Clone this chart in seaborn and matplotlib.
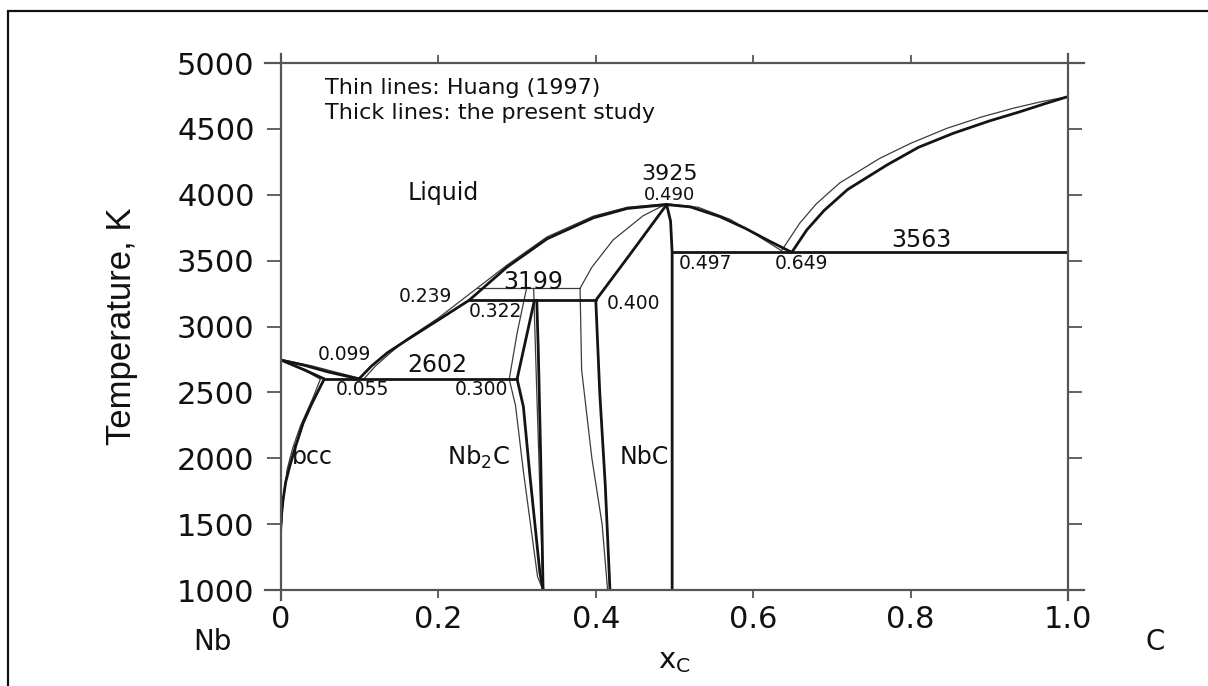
import matplotlib
matplotlib.use("Agg")
import matplotlib.pyplot as plt
import seaborn as sns
from matplotlib.patches import Rectangle

# ---------------- Nb-C phase boundaries, present study (thick lines) ----------------
liq_nb_x = [0.0, 0.03, 0.06, 0.099]
liq_nb_t = [2745, 2705, 2655, 2602]
sol_bcc_x = [0.0, 0.03, 0.055]
sol_bcc_t = [2745, 2670, 2602]
solvus_bcc_x = [0.055, 0.048, 0.038, 0.028, 0.018, 0.011, 0.006, 0.003, 0.001, 0.0]
solvus_bcc_t = [2602, 2520, 2400, 2265, 2080, 1937, 1820, 1700, 1600, 1500]
liq_mid_x = [0.099, 0.115, 0.135, 0.16, 0.2, 0.239, 0.287, 0.338, 0.397, 0.44, 0.49]
liq_mid_t = [2602, 2700, 2800, 2898, 3050, 3199, 3450, 3665, 3825, 3896, 3925]
liq_right_x = [0.49, 0.52, 0.558, 0.59, 0.62, 0.649]
liq_right_t = [3925, 3908, 3833, 3745, 3650, 3563]
liq_gr_x = [0.649, 0.668, 0.69, 0.72, 0.77, 0.81, 0.854, 0.9, 0.939, 0.97, 1.0]
liq_gr_t = [3563, 3732, 3880, 4040, 4226, 4360, 4466, 4560, 4630, 4690, 4745]
nb2c_left_x = [0.322, 0.311, 0.300, 0.308, 0.316, 0.329, 0.333]
nb2c_left_t = [3199, 2900, 2602, 2391, 1886, 1129, 1000]
nb2c_right_x = [0.325, 0.327, 0.330, 0.333]
nb2c_right_t = [3199, 2800, 2000, 1000]
nbc_left_x = [0.49, 0.445, 0.400, 0.405, 0.412, 0.418]
nbc_left_t = [3925, 3560, 3199, 2500, 1800, 1000]
nbc_right_x = [0.49, 0.495, 0.497, 0.497]
nbc_right_t = [3925, 3800, 3563, 1000]

# invariant reactions (present study)
eut_low_x = [0.055, 0.300]
eut_low_t = [2602, 2602]
perit_x = [0.239, 0.400]
perit_t = [3199, 3199]
eut_high_x = [0.497, 1.0]
eut_high_t = [3563, 3563]

# ---------------- Huang (1997) (thin lines) ----------------
h_liq_nb_x = [0.0, 0.04, 0.075, 0.105]
h_liq_nb_t = [2750, 2700, 2645, 2600]
h_sol_bcc_x = [0.0, 0.03, 0.05]
h_sol_bcc_t = [2750, 2668, 2600]
h_solvus_x = [0.05, 0.04, 0.025, 0.015, 0.008, 0.003, 0.0]
h_solvus_t = [2600, 2450, 2250, 2080, 1920, 1700, 1400]
h_liq_mid_x = [0.105, 0.12, 0.14, 0.16, 0.2, 0.249, 0.287, 0.338, 0.397, 0.44, 0.49]
h_liq_mid_t = [2600, 2700, 2805, 2905, 3065, 3290, 3465, 3680, 3838, 3905, 3932]
h_liq_right_x = [0.49, 0.53, 0.57, 0.60, 0.636]
h_liq_right_t = [3932, 3905, 3815, 3710, 3575]
h_liq_gr_x = [0.636, 0.659, 0.68, 0.71, 0.761, 0.80, 0.846, 0.89, 0.93, 0.965, 1.0]
h_liq_gr_t = [3575, 3783, 3930, 4090, 4277, 4390, 4504, 4590, 4656, 4705, 4745]
h_nb2c_left_x = [0.312, 0.300, 0.290, 0.298, 0.308, 0.326, 0.333]
h_nb2c_left_t = [3290, 2950, 2600, 2400, 1900, 1100, 1000]
h_nb2c_right_x = [0.321, 0.325, 0.333]
h_nb2c_right_t = [3290, 2500, 1000]
h_nbc_left_x = [0.49, 0.46, 0.422, 0.395, 0.380, 0.382, 0.395, 0.408, 0.415]
h_nbc_left_t = [3932, 3840, 3657, 3450, 3290, 2670, 2000, 1500, 1000]
h_perit_x = [0.249, 0.380]
h_perit_t = [3290, 3290]

thick = [
    (liq_nb_x, liq_nb_t), (sol_bcc_x, sol_bcc_t), (solvus_bcc_x, solvus_bcc_t),
    (liq_mid_x, liq_mid_t), (liq_right_x, liq_right_t), (liq_gr_x, liq_gr_t),
    (nb2c_left_x, nb2c_left_t), (nb2c_right_x, nb2c_right_t),
    (nbc_left_x, nbc_left_t), (nbc_right_x, nbc_right_t),
    (eut_low_x, eut_low_t), (perit_x, perit_t), (eut_high_x, eut_high_t),
]
thin = [
    (h_liq_nb_x, h_liq_nb_t), (h_sol_bcc_x, h_sol_bcc_t), (h_solvus_x, h_solvus_t),
    (h_liq_mid_x, h_liq_mid_t), (h_liq_right_x, h_liq_right_t), (h_liq_gr_x, h_liq_gr_t),
    (h_nb2c_left_x, h_nb2c_left_t), (h_nb2c_right_x, h_nb2c_right_t),
    (h_nbc_left_x, h_nbc_left_t), (h_perit_x, h_perit_t),
]

x_ticks = [0, 0.2, 0.4, 0.6, 0.8, 1.0]
x_tick_labels = ["0", "0.2", "0.4", "0.6", "0.8", "1.0"]
y_ticks = [1000, 1500, 2000, 2500, 3000, 3500, 4000, 4500, 5000]

sns.set_theme(style="white")
plt.rcParams["font.family"] = ["DejaVu Sans"]

W, H = 1208, 686
fig = plt.figure(figsize=(W / 100, H / 100), dpi=100)
ax = fig.add_axes([281 / W, 1 - 590 / H, (1068 - 281) / W, (590 - 63) / H])

for xs, ts in thin:
    sns.lineplot(x=xs, y=ts, sort=False, estimator=None, color="#3c3c3c", lw=0.9, ax=ax)
for xs, ts in thick:
    sns.lineplot(x=xs, y=ts, sort=False, estimator=None, color="#141414", lw=2.0, ax=ax)

ax.set_xlim(0, 1.0)
ax.set_ylim(1000, 5000)
ax.set_xticks(x_ticks)
ax.set_xticklabels(x_tick_labels)
ax.set_yticks(y_ticks)

spine_col = "#555555"
for side in ["left", "right", "top", "bottom"]:
    ax.spines[side].set_visible(True)
    ax.spines[side].set_color(spine_col)
    ax.spines[side].set_linewidth(1.6)
ax.spines["left"].set_bounds(925, 5065)
ax.spines["right"].set_bounds(925, 5065)
ax.spines["top"].set_bounds(-0.02, 1.02)
ax.spines["bottom"].set_bounds(-0.02, 1.02)

ax.tick_params(axis="y", which="both", left=True, right=True, direction="out",
               length=10, width=1.3, color=spine_col, labelsize=22, pad=9,
               labelcolor="#111111")
ax.tick_params(axis="x", which="both", bottom=True, top=True, direction="out",
               length=6, width=1.3, color=spine_col, labelsize=22, pad=5,
               labelcolor="#111111")
ax.grid(False)
ax.set_xlabel("")

ax.set_ylabel("Temperature, K", fontsize=25, family="Liberation Sans", color="#111111")
ax.yaxis.set_label_coords(138 / W, 1 - 326 / H, transform=fig.transFigure)

fig.text(674 / W, 1 - 661 / H, r"$\mathregular{x_C}$", fontsize=21, ha="center",
         va="center", color="#111111")
fig.text(212 / W, 1 - 642 / H, "Nb", fontsize=20, ha="center", va="center", color="#111111")
fig.text(1155 / W, 1 - 642 / H, "C", fontsize=20, ha="center", va="center", color="#111111")

# note on line weights
ax.text(0.056, 4810, "Thin lines: Huang (1997)", fontsize=16, va="center", ha="left", color="#111111")
ax.text(0.056, 4618, "Thick lines: the present study", fontsize=16, va="center", ha="left", color="#111111")

# phase field and invariant labels
lab = dict(color="#111111", va="center")
ax.text(0.206, 4011, "Liquid", fontsize=17, ha="center", **lab)
ax.text(0.494, 4160, "3925", fontsize=16, ha="center", **lab)
ax.text(0.494, 3995, "0.490", fontsize=13, ha="center", **lab)
ax.text(0.814, 3657, "3563", fontsize=17, ha="center", **lab)
ax.text(0.505, 3480, "0.497", fontsize=13.5, ha="left", **lab)
ax.text(0.662, 3480, "0.649", fontsize=13.5, ha="center", **lab)
ax.text(0.321, 3340, "3199", fontsize=17, ha="center", **lab)
ax.text(0.217, 3226, "0.239", fontsize=13.5, ha="right", **lab)
ax.text(0.272, 3112, "0.322", fontsize=13.5, ha="center", **lab)
ax.text(0.448, 3176, "0.400", fontsize=13.5, ha="center", **lab)
ax.text(0.081, 2784, "0.099", fontsize=13.5, ha="center", **lab)
ax.text(0.198, 2708, "2602", fontsize=17, ha="center", **lab)
ax.text(0.103, 2523, "0.055", fontsize=13.5, ha="center", **lab)
ax.text(0.255, 2523, "0.300", fontsize=13.5, ha="center", **lab)
ax.text(0.014, 2007, "bcc", fontsize=17, ha="left", **lab)
ax.text(0.251, 2007, r"$\mathregular{Nb_2C}$", fontsize=17.5, ha="center", **lab)
ax.text(0.462, 2007, "NbC", fontsize=17, ha="center", **lab)

# outer frame
fig.patches.append(Rectangle((8 / W, -0.5), 2.0, (H - 11) / H + 0.5, transform=fig.transFigure,
                             fill=False, edgecolor="#111111", lw=1.6))

fig.savefig("out.png", dpi=100)
